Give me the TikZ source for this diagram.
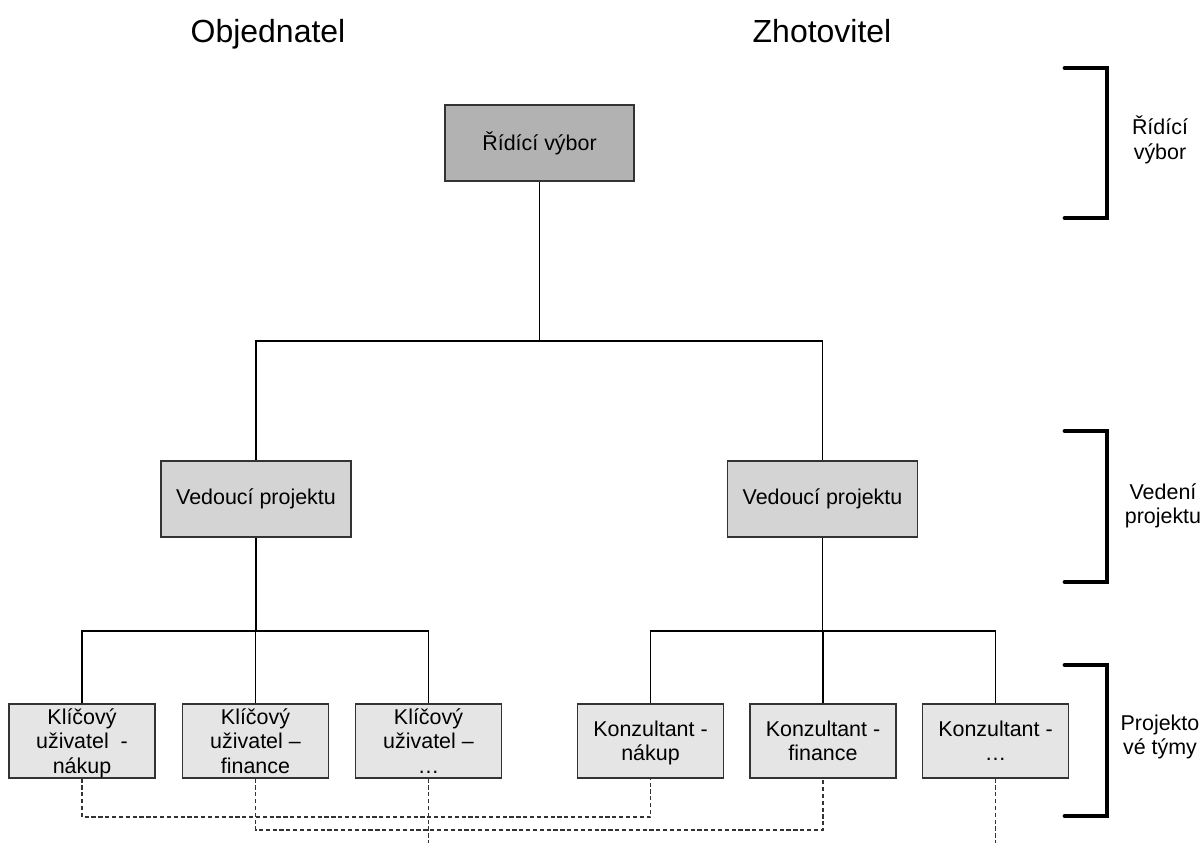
\documentclass[tikz,border=0pt]{standalone}
\usepackage{fontspec}
\setmainfont{Liberation Sans}
% fixed-size centred text block for the team boxes
\newcommand{\teamtext}[1]{\parbox[c][42pt][c]{80pt}{\vspace*{3.4pt}\centering\fontsize{12.2}{13.8}\selectfont #1}}
\begin{document}
\begin{tikzpicture}[x=0.02cm,y=-0.02cm,
  box/.style={draw=black!80, line width=0.6pt, inner sep=0pt, align=center,
    font=\fontsize{12.2}{13.9}\selectfont},
  topbox/.style={box, fill=black!30, minimum width=3.78cm, minimum height=1.52cm},
  midbox/.style={box, fill=black!17, minimum width=3.8cm, minimum height=1.52cm},
  teambox/.style={box, fill=black!10, minimum width=2.92cm, minimum height=1.48cm},
  link/.style={line width=0.6pt},
  dlink/.style={line width=0.6pt, black!80, dash pattern=on 2.4pt off 1.5pt},
  bracketline/.style={line width=2.8pt, line cap=round, line join=miter},
  heading/.style={anchor=base, font=\fontsize{18.2}{21}\selectfont},
  levellabel/.style={align=center, font=\fontsize{12.2}{13.9}\selectfont}]
\useasboundingbox (0,0) rectangle (1201,843);

% column headings
\node[heading] (hObj) at (268,42) {Objednatel};
\node[heading] (hZho) at (822,42) {Zhotovitel};

% steering committee
\node[topbox] (top) at (539.5,143) {Řídící výbor};

% project managers
\node[midbox] (vl) at (256,499) {Vedoucí projektu};
\node[midbox] (vr) at (822.5,499) {Vedoucí projektu};

% project teams
\node[teambox] (k1) at (82,741) {\teamtext{\strut Klíčový\\\strut uživatel\ \ -\\\strut nákup}};
\node[teambox] (k2) at (255.5,741) {\teamtext{\strut Klíčový\\\strut uživatel –\\\strut finance}};
\node[teambox] (k3) at (428.5,741) {\teamtext{\strut Klíčový\\\strut uživatel –\\\strut …}};
\node[teambox] (k4) at (650.5,741) {\teamtext{\strut Konzultant -\\\strut nákup}};
\node[teambox] (k5) at (823,741) {\teamtext{\strut Konzultant -\\\strut finance}};
\node[teambox] (k6) at (995.5,741) {\teamtext{\strut Konzultant -\\\strut …}};

% junction points
\coordinate (j1) at (539.5,341);
\coordinate (j2) at (256,631);
\coordinate (j3) at (822.5,631);

% solid tree connectors
\draw[link] (top.south) -- (j1);
\draw[link] (vl.north) |- (j1) -| (vr.north);
\draw[link] (vl.south) -- (j2);
\draw[link] (k1.north) |- (j2) -| (k3.north);
\draw[link] (k2.north) -- (k2.north |- j2);
\draw[link] (vr.south) -- (j3);
\draw[link] (k4.north) |- (j3) -| (k6.north);
\draw[link] (k5.north) -- (k5.north |- j3);

% dashed links between matching team members
\coordinate (d1) at (82,817);
\coordinate (d2) at (255.5,830);
\coordinate (e3) at (428.5,843);
\coordinate (e6) at (995.5,843);
\draw[dlink] (k1.south) -- (d1) -| (k4.south);
\draw[dlink] (k2.south) -- (d2) -| (k5.south);
\draw[dlink] (k3.south) -- (e3);
\draw[dlink] (k6.south) -- (e6);

% level brackets
\coordinate (b1a) at (1065,68);  \coordinate (b1b) at (1065,218);
\coordinate (b2a) at (1065,431); \coordinate (b2b) at (1065,582);
\coordinate (b3a) at (1065,665); \coordinate (b3b) at (1065,816);
\draw[bracketline] (b1a) -- ++(42,0) |- (b1b);
\draw[bracketline] (b2a) -- ++(42,0) |- (b2b);
\draw[bracketline] (b3a) -- ++(42,0) |- (b3b);

% level labels
\node[levellabel] (l1) at (1160,140) {Řídící\\výbor};
\node[levellabel] (l2) at (1163,506) {Vedení\\projektu};
\node[levellabel] (l3) at (1160,737) {Projekto\\vé týmy};
\end{tikzpicture}
\end{document}
